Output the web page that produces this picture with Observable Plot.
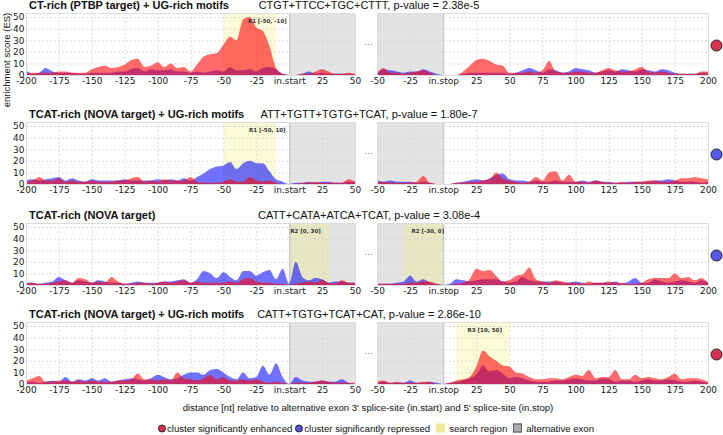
<!DOCTYPE html>
<html>
<head>
<meta charset="utf-8">
<script src="https://cdn.jsdelivr.net/npm/d3@7"></script>
<script src="https://cdn.jsdelivr.net/npm/@observablehq/plot@0.6"></script>
<style>
  html, body { margin: 0; padding: 0; background: #fff; }
  #chart { position: relative; width: 723px; height: 435px; overflow: hidden; font-family: "Liberation Sans", Arial, sans-serif; color: #111; }
  .abs { position: absolute; white-space: nowrap; }
  .tb { font-weight: bold; font-size: 11px; transform: translateY(-50%); }
  .tm { font-size: 11px; transform: translate(-50%, -50%); }
  .leg { display: flex; align-items: center; font-size: 9.6px; }
  .sw { display: inline-block; box-sizing: border-box; margin-right: 1px; }
</style>
</head>
<body>
<div id="chart"></div>
<script>
// ---------- data ----------
const xLeft = d3.range(-200, 51, 5);   // -200 .. 50 nt around in.start
const xRight = d3.range(-50, 201, 5);  // -50 .. 200 nt around in.stop
const xTicksLeft = [-200, -175, -150, -125, -100, -75, -50, -25, 0, 25, 50];
const xTicksRight = [-50, -25, 0, 25, 50, 75, 100, 125, 150, 175, 200];
const yTicks = [0, 10, 20, 30, 40, 50];

const titlesBold = [
  "CT-rich (PTBP target) + UG-rich motifs",
  "TCAT-rich (NOVA target) + UG-rich motifs",
  "TCAT-rich (NOVA target)",
  "TCAT-rich (NOVA target) + UG-rich motifs"
];
const titlesMotif = [
  "CTGT+TTCC+TGC+CTTT, p-value = 2.38e-5",
  "ATT+TGTT+TGTG+TCAT, p-value = 1.80e-7",
  "CATT+CATA+ATCA+TCAT, p-value = 3.08e-4",
  "CATT+TGTG+TCAT+CAT, p-value = 2.86e-10"
];
const panelClass = ["enhanced", "repressed", "repressed", "enhanced"];

// enrichment scores, left (-200..50) and right (-50..200), step 5
const p1LeftRed  = [2,2,2,2,2,3,3,2,2,2, 5,7,8,6,7,9,13,14,7,8, 11,7,10,6,7,3,9,16,18,19, 26,33,30,48,50,41,38,25,6,1, 0,0,1,1,3,5,3,1,1,2,1];
const p1LeftBlue = [4,1,2,6,3,2,2,2,1,1, 2,2,2,2,3,3,5,6,3,5, 4,4,5,3,3,2,3,2,3,4, 3,7,4,4,5,3,6,7,5,1, 0,0,1,3,1,2,1,1,1,1,0];
const p1RightRed  = [1,6,2,2,1,2,3,4,2,0, 0,0,0,3,8,13,14,12,9,8, 2,2,2,3,2,4,12,3,2,2, 3,3,2,2,4,6,4,3,3,5, 7,3,2,3,2,1,1,1,1,3,3];
const p1RightBlue = [2,5,4,3,2,3,3,5,3,1, 0,0,0,1,2,2,2,2,2,2, 1,2,4,6,4,2,5,4,2,3, 6,5,4,2,3,4,3,5,4,3, 5,4,3,5,4,2,1,1,1,2,2];

const p2LeftRed  = [2,3,6,3,3,5,2,3,2,2, 3,2,2,2,3,3,5,6,2,3, 2,4,3,3,3,6,2,1,1,1, 2,4,2,2,6,3,2,3,1,0, 0,0,1,1,2,1,1,1,1,4,2];
const p2LeftBlue = [3,4,3,4,5,6,3,5,3,2, 4,3,3,3,3,4,3,3,3,3, 4,3,4,3,5,3,6,9,13,15, 16,19,13,18,20,18,18,11,4,2, 0,1,1,2,1,2,2,1,1,2,2];
const p2RightRed  = [1,2,1,1,1,1,2,7,1,0, 0,0,1,1,2,2,3,4,10,5, 3,2,1,2,6,3,10,11,3,8, 2,2,1,3,2,1,1,2,1,2, 2,3,3,2,2,3,5,5,6,5,4];
const p2RightBlue = [3,2,3,2,2,2,1,2,1,0, 0,0,1,2,3,4,3,5,8,9, 4,3,3,2,3,2,2,3,2,2, 2,3,2,3,2,2,1,1,2,2, 2,2,3,3,4,3,2,2,2,1,2];

const p3LeftRed  = [1,2,1,1,2,3,4,2,6,5, 2,3,2,7,3,1,1,2,2,1, 2,3,2,3,4,2,3,2,2,2, 2,3,2,5,6,3,2,2,1,1, 0,1,2,3,2,4,2,1,4,2,2];
const p3LeftBlue = [2,2,1,2,3,7,4,2,4,3, 2,4,3,2,2,1,2,3,2,2, 2,3,3,4,5,2,5,12,10,6, 11,7,4,12,12,8,11,13,5,14, 1,20,7,4,6,5,2,3,3,2,2];
const p3RightRed  = [1,1,1,1,1,2,2,3,3,1, 0,0,1,2,5,14,12,13,8,3, 4,8,9,15,5,3,2,4,3,2, 2,1,3,2,2,3,2,2,1,1, 2,5,6,6,6,10,6,7,4,6,2];
const p3RightBlue = [1,1,1,2,3,8,3,5,2,1, 0,1,5,4,3,4,5,5,5,3, 2,3,7,4,3,3,3,3,2,2, 3,2,1,2,2,2,3,1,3,6, 2,2,5,3,2,3,4,3,2,4,2];

const p4LeftRed  = [3,5,7,2,2,3,3,2,3,2, 3,2,2,2,3,3,4,9,4,4, 3,4,3,10,5,4,3,5,8,4, 6,3,3,4,3,4,2,1,2,1, 0,1,1,1,2,3,2,1,1,1,1];
const p4LeftBlue = [2,2,1,2,3,2,6,2,4,3, 5,3,5,2,3,4,5,4,3,5, 8,6,4,5,8,10,10,8,12,13, 10,6,4,10,5,6,16,8,18,6, 0,6,3,2,2,3,2,2,4,1,0];
const p4RightRed  = [2,3,1,2,1,1,1,2,2,0, 0,1,3,4,6,15,29,24,20,16, 15,10,9,6,4,4,5,5,4,6, 8,7,12,5,6,6,12,4,4,8, 5,6,5,4,6,9,4,5,5,4,2];
const p4RightBlue = [1,2,1,1,1,3,1,1,2,1, 0,1,2,3,5,8,16,11,12,9, 5,6,5,3,2,2,2,3,3,4, 5,4,3,3,5,4,2,3,3,2, 3,4,3,3,4,3,2,2,3,2,1];

const leftRed = [p1LeftRed, p2LeftRed, p3LeftRed, p4LeftRed];
const leftBlue = [p1LeftBlue, p2LeftBlue, p3LeftBlue, p4LeftBlue];
const rightRed = [p1RightRed, p2RightRed, p3RightRed, p4RightRed];
const rightBlue = [p1RightBlue, p2RightBlue, p3RightBlue, p4RightBlue];

// alternative exon span on each side
const exonLeft = [0, 50];
const exonRight = [-50, 0];
// search regions: panel, side, shaded span, label, label anchor
const regions = [
  {panel: 0, side: "L", x1: -50, x2: -10, label: "R1 [-50, -10]", tx: -17},
  {panel: 1, side: "L", x1: -50, x2: -10, label: "R1 [-50, 10]", tx: -17},
  {panel: 2, side: "L", x1: 0, x2: 30, label: "R2 [0, 30]", tx: 12},
  {panel: 2, side: "R", x1: -30, x2: 0, label: "R2 [-30, 0]", tx: -12},
  {panel: 3, side: "R", x1: 10, x2: 50, label: "R3 [10, 50]", tx: 31}
];

const legendItems = [
  {label: "cluster significantly enhanced", kind: "circle", color: "#d9304f"},
  {label: "cluster significantly repressed", kind: "circle", color: "#5656e8"},
  {label: "search region", kind: "square", color: "#eeeb98"},
  {label: "alternative exon", kind: "square", color: "#ababab"}
];

// ---------- style ----------
const RED = "rgb(255,0,0)";
const BLUE = "rgb(10,10,255)";
const DOT = {enhanced: "#d9304f", repressed: "#5656e8"};
const plotTops = [13, 122, 223, 322];
const PH = 62, MT = 13, MB = 14;

const chart = document.getElementById("chart");

function place(el, left, top) {
  el.style.position = "absolute";
  el.style.left = left + "px";
  el.style.top = top + "px";
  chart.appendChild(el);
}

function panel(p, side) {
  const L = side === "L";
  const xs = L ? xLeft : xRight;
  const red = L ? leftRed[p] : rightRed[p];
  const blue = L ? leftBlue[p] : rightBlue[p];
  const data = xs.map((x, i) => ({x, red: red[i], blue: blue[i]}));
  const exon = L ? exonLeft : exonRight;
  const regs = regions.filter(r => r.panel === p && r.side === side);
  const ticks = L ? xTicksLeft : xTicksRight;
  const zeroName = L ? "in.start" : "in.stop";
  const svg = Plot.plot({
    width: L ? 360 : 363,
    height: MT + PH + MB,
    marginTop: MT, marginBottom: MB,
    marginLeft: L ? 26 : 17,
    marginRight: L ? 5 : 15,
    style: {fontFamily: "'DejaVu Sans', sans-serif", fontSize: "9px", background: "transparent", color: "#1a1a1a", overflow: "visible"},
    x: {domain: L ? [-200, 50] : [-50, 200], ticks, tickSize: 0, tickPadding: 2, label: null,
        tickFormat: d => d === 0 ? zeroName : String(d)},
    y: {domain: [0, 53.5], axis: L ? "left" : null, ticks: yTicks, tickSize: 0, tickPadding: 2, label: null},
    marks: [
      Plot.rect([exon], {x1: d => d[0], x2: d => d[1], fill: "#e3e3e3"}),
      Plot.rect(regs, {x1: "x1", x2: "x2", fill: "#f2f070", fillOpacity: 0.28}),
      Plot.ruleX([0], {stroke: "#b5b5b5", strokeWidth: 1}),
      Plot.ruleX(ticks, {stroke: "#d4d4d4", strokeDasharray: "2,2", strokeWidth: 0.8}),
      Plot.ruleY(yTicks.slice(1), {stroke: "#d4d4d4", strokeDasharray: "2,2", strokeWidth: 0.8}),
      Plot.areaY(data, {x: "x", y: "blue", fill: BLUE, fillOpacity: 0.58, curve: "monotone-x"}),
      Plot.areaY(data, {x: "x", y: "red", fill: RED, fillOpacity: 0.58, curve: "monotone-x"}),
      Plot.frame({stroke: "#dcdcdc"}),
      Plot.text(regs, {x: "tx", frameAnchor: "top", dy: 6, text: "label", fontSize: 5.5, fill: "#333", fontWeight: "bold"}),
      ...(L ? [] : [
        Plot.text(["..."], {frameAnchor: "left", dx: -13, dy: -2, text: d => d, fontSize: 9, fill: "#888"}),
        Plot.dot([panelClass[p]], {frameAnchor: "right", dx: 8, dy: 1, r: 5.5, fill: d => DOT[d], stroke: "#222", strokeWidth: 1})
      ])
    ]
  });
  place(svg, L ? 0 : 360, plotTops[p] - MT);
}

for (let p = 0; p < 4; p++) {
  panel(p, "L");
  panel(p, "R");
  const tb = document.createElement("div");
  tb.className = "abs tb";
  tb.textContent = titlesBold[p];
  place(tb, 29, plotTops[p] - 8);
  const tm = document.createElement("div");
  tm.className = "abs tm";
  tm.textContent = titlesMotif[p];
  place(tm, 369, plotTops[p] - 8);
}

// y label
const yl = document.createElement("div");
yl.className = "abs";
yl.textContent = "enrichment score (ES)";
yl.style.fontSize = "9.5px";
yl.style.transform = "translate(-50%, -50%) rotate(-90deg)";
place(yl, 6, 60);

// x label
const xl = document.createElement("div");
xl.className = "abs";
xl.textContent = "distance [nt] relative to alternative exon 3' splice-site (in.start) and 5' splice-site (in.stop)";
xl.style.fontSize = "9.6px";
xl.style.transform = "translate(-50%, -50%)";
place(xl, 368, 407);

// legend
const leg = document.createElement("div");
leg.className = "abs leg";
leg.style.transform = "translate(-50%, -50%)";
legendItems.forEach((it, i) => {
  const sw = document.createElement("span");
  sw.className = "sw";
  if (it.kind === "circle") {
    sw.style.width = "8px"; sw.style.height = "8px"; sw.style.borderRadius = "50%";
    sw.style.background = it.color; sw.style.border = "1px solid #222";
    if (i > 0) sw.style.marginLeft = "3px";
  } else {
    sw.style.width = "9px"; sw.style.height = "9px";
    sw.style.background = it.color; sw.style.border = it.label === "alternative exon" ? "1px solid #555" : "none";
    sw.style.marginLeft = "6px"; sw.style.marginRight = "4px";
  }
  leg.appendChild(sw);
  const t = document.createElement("span");
  t.textContent = it.label;
  leg.appendChild(t);
});
place(leg, 376, 428);
</script>
</body>
</html>
